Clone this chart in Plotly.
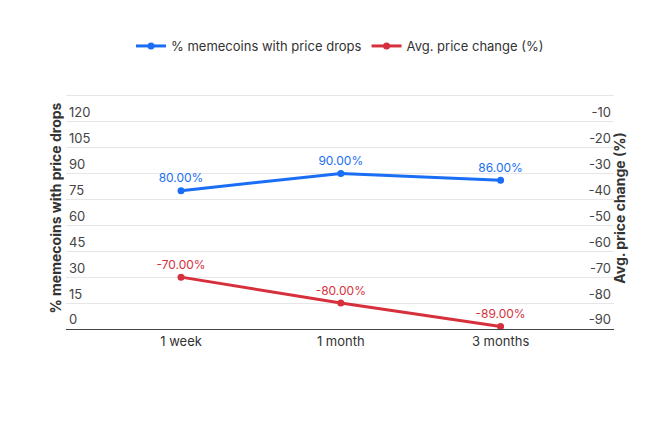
import plotly.graph_objects as go

categories = ["1 week", "1 month", "3 months"]
pct_drops = [80, 90, 86]
avg_change = [-70, -80, -89]
left_ticks = list(range(0, 136, 15))
right_ticks = list(range(-90, 1, 10))

BLUE = "#1a6ef5"
RED = "#d6303c"
FONT = "Inter, Open Sans, sans-serif"

fig = go.Figure()
fig.add_trace(go.Scatter(
    x=categories, y=pct_drops, name="% memecoins with price drops",
    mode="lines+markers+text", line=dict(color=BLUE, width=3), marker=dict(size=7),
    text=[f"{v:.2f}%" for v in pct_drops], textposition="top center",
    textfont=dict(color=BLUE, size=12), yaxis="y"))
fig.add_trace(go.Scatter(
    x=categories, y=avg_change, name="Avg. price change (%)",
    mode="lines+markers+text", line=dict(color=RED, width=3), marker=dict(size=7),
    text=[f"{v:.2f}%" for v in avg_change], textposition="top center",
    textfont=dict(color=RED, size=12), yaxis="y2"))

fig.update_layout(
    width=664, height=437, plot_bgcolor="white", paper_bgcolor="white",
    font=dict(family=FONT, size=13, color="#333"),
    margin=dict(l=58, r=58, t=79, b=116, autoexpand=False),
    legend=dict(orientation="h", x=0.5, xanchor="center", y=1 - 38 / 437, yanchor="middle",
                yref="container", font=dict(size=13)),
    xaxis=dict(range=[-0.72, 2.71], showgrid=False, showline=True, linecolor="#444",
               linewidth=1, ticks="", tickfont=dict(size=13)),
    yaxis=dict(range=[0, 140], tickvals=left_ticks, ticktext=[str(t) for t in left_ticks],
               gridcolor="#e6e6e6", ticklabelposition="inside top", zeroline=False,
               title=dict(text="<b>% memecoins with price drops</b>", font=dict(size=14), standoff=4)),
    yaxis2=dict(range=[-90, 90 * 5 / 135], tickvals=right_ticks, ticktext=[str(t) for t in right_ticks],
                overlaying="y", side="right", showgrid=False, zeroline=False,
                ticklabelposition="inside top",
                title=dict(text="<b>Avg. price change (%)</b>", font=dict(size=14), standoff=4)),
)
fig.write_html("out.html")
